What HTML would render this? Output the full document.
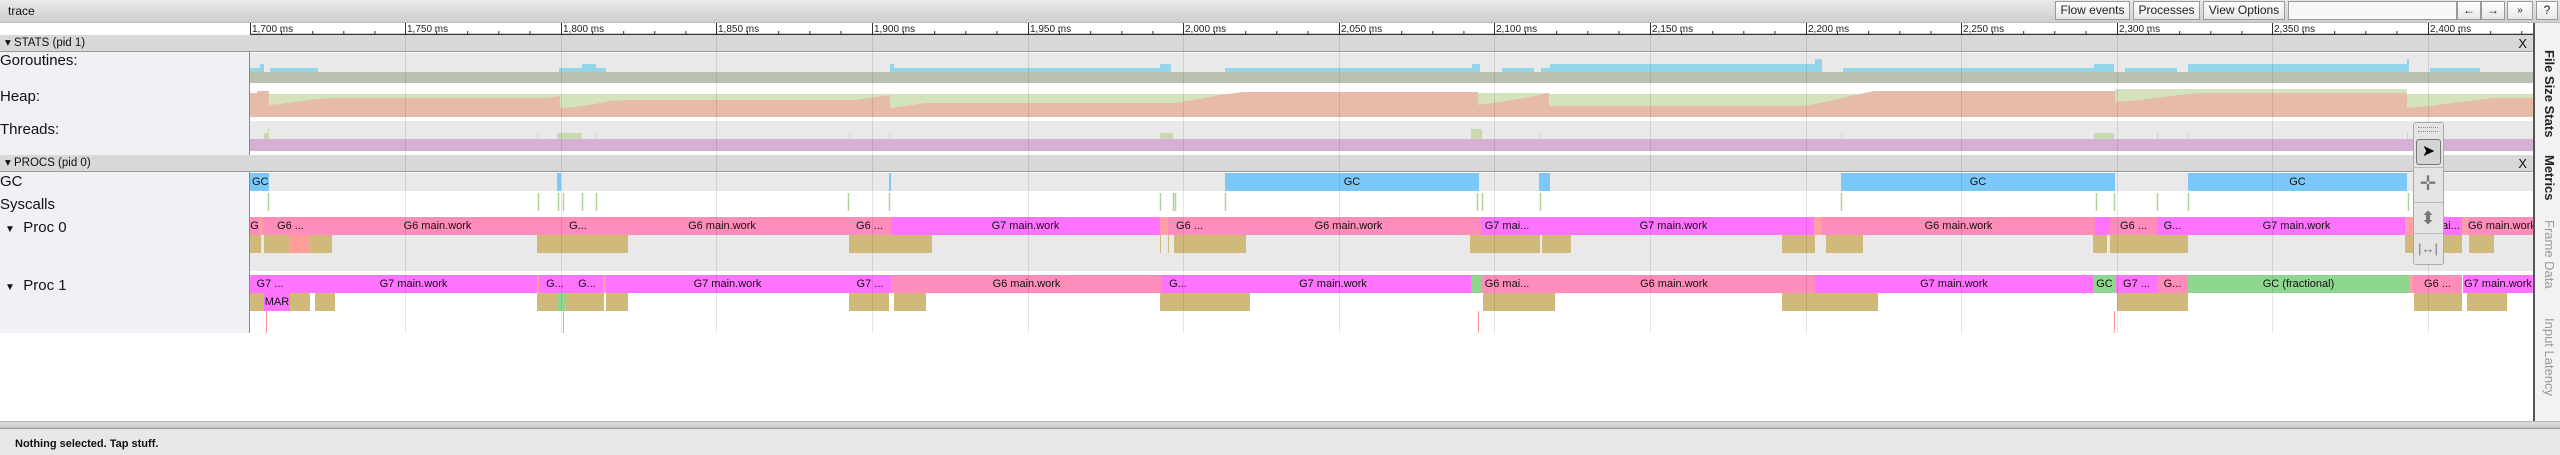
<!DOCTYPE html>
<html><head><meta charset="utf-8"><style>
*{margin:0;padding:0;box-sizing:border-box}
body{width:2560px;height:455px;overflow:hidden;background:#fff;font-family:"Liberation Sans",sans-serif;position:relative}
.a{position:absolute}
.s{position:absolute;overflow:hidden;white-space:nowrap;text-align:center;font-size:11px;color:#111;line-height:18px;height:18px}
.P{background:#ff8dbb}.M{background:#ff73ff}.T{background:#d1b97b}.G{background:#8fd68f}.R{background:#ffa0a8}.B{background:#7cc7fa}
.btn{position:absolute;top:1px;height:19px;border:1px solid #999;background:linear-gradient(#fdfdfd,#e8e8e8);font-size:12px;line-height:17px;text-align:center;color:#222}
.lbl{position:absolute;left:0;font-size:15px;color:#111}
.hdr{position:absolute;left:0;width:2533px;height:17px;background:#d8d8d8;border-bottom:1px solid #999;font-size:11.5px;line-height:17px;color:#111;padding-left:5px}
.x{position:absolute;right:6px;top:0;font-size:13px}
.vt{position:absolute;left:2542px;writing-mode:vertical-rl;font-size:13px;font-weight:bold;color:#222}
.tb{position:absolute;left:2413px;width:30px;border-top:1px solid #bbb;color:#777;text-align:center}
</style></head><body>
<div class="a" style="left:0;top:0;width:2560px;height:23px;background:linear-gradient(#e9e9e9,#cfcfcf);border-bottom:1px solid #bbb"></div>
<div class="a" style="left:8px;top:4px;font-size:12px;color:#111">trace</div>
<div class="btn" style="left:2055px;width:75px">Flow events</div>
<div class="btn" style="left:2133px;width:67px">Processes</div>
<div class="btn" style="left:2203px;width:82px">View Options</div>
<div class="btn" style="left:2288px;width:169px;background:#f8f8f8"></div>
<div class="btn" style="left:2457px;width:24px">←</div>
<div class="btn" style="left:2481px;width:24px">→</div>
<div class="btn" style="left:2507px;width:26px;font-size:10px">»</div>
<div class="btn" style="left:2536px;width:22px">?</div>

<div class="a" style="left:0;top:35px;width:250px;height:298px;background:#f0f1f5;border-right:1px solid #888"></div>

<svg class="a" style="left:0;top:23px" width="2533" height="13">
<line x1="250" y1="11.5" x2="2533" y2="11.5" stroke="#333" stroke-width="1.5"/>
<g stroke="#333" stroke-width="1">
<line x1="250.5" y1="0" x2="250.5" y2="12"/><line x1="405.5" y1="0" x2="405.5" y2="12"/><line x1="561.5" y1="0" x2="561.5" y2="12"/><line x1="716.5" y1="0" x2="716.5" y2="12"/><line x1="872.5" y1="0" x2="872.5" y2="12"/><line x1="1028.5" y1="0" x2="1028.5" y2="12"/><line x1="1183.5" y1="0" x2="1183.5" y2="12"/><line x1="1339.5" y1="0" x2="1339.5" y2="12"/><line x1="1494.5" y1="0" x2="1494.5" y2="12"/><line x1="1650.5" y1="0" x2="1650.5" y2="12"/><line x1="1806.5" y1="0" x2="1806.5" y2="12"/><line x1="1961.5" y1="0" x2="1961.5" y2="12"/><line x1="2117.5" y1="0" x2="2117.5" y2="12"/><line x1="2272.5" y1="0" x2="2272.5" y2="12"/><line x1="2428.5" y1="0" x2="2428.5" y2="12"/>
</g>
<path d="M281.6 8V12M312.7 8V12M343.8 8V12M374.9 8V12M436.6 8V12M467.7 8V12M498.8 8V12M530 8V12M592.6 8V12M623.7 8V12M654.8 8V12M685.9 8V12M747.6 8V12M778.7 8V12M809.8 8V12M841 8V12M903.6 8V12M934.7 8V12M965.8 8V12M996.9 8V12M1059.6 8V12M1090.7 8V12M1121.8 8V12M1152.9 8V12M1214.6 8V12M1245.7 8V12M1276.8 8V12M1308 8V12M1370.6 8V12M1401.7 8V12M1432.8 8V12M1463.9 8V12M1525.6 8V12M1556.7 8V12M1587.8 8V12M1619 8V12M1681.6 8V12M1712.7 8V12M1743.8 8V12M1774.9 8V12M1837.6 8V12M1868.7 8V12M1899.8 8V12M1930.9 8V12M1992.6 8V12M2023.7 8V12M2054.8 8V12M2086 8V12M2148.6 8V12M2179.7 8V12M2210.8 8V12M2241.9 8V12M2303.6 8V12M2334.7 8V12M2365.8 8V12M2396.9 8V12M2459.6 8V12M2490.7 8V12M2521.8 8V12" stroke="#333" stroke-width="1"/>
<g font-size="10" fill="#222" font-family="Liberation Sans,sans-serif">
<text x="252" y="9">1,700 ms</text><text x="407" y="9">1,750 ms</text><text x="563" y="9">1,800 ms</text><text x="718" y="9">1,850 ms</text><text x="874" y="9">1,900 ms</text><text x="1030" y="9">1,950 ms</text><text x="1185" y="9">2,000 ms</text><text x="1341" y="9">2,050 ms</text><text x="1496" y="9">2,100 ms</text><text x="1652" y="9">2,150 ms</text><text x="1808" y="9">2,200 ms</text><text x="1963" y="9">2,250 ms</text><text x="2119" y="9">2,300 ms</text><text x="2274" y="9">2,350 ms</text><text x="2430" y="9">2,400 ms</text>
</g>
</svg>

<div class="hdr" style="top:35px">▾ STATS (pid 1)<span class="x">X</span></div>
<div class="hdr" style="top:155px">▾ PROCS (pid 0)<span class="x">X</span></div>

<div class="lbl" style="top:52px">Goroutines:</div>
<div class="lbl" style="top:88px">Heap:</div>
<div class="lbl" style="top:121px">Threads:</div>
<div class="lbl" style="top:173px">GC</div>
<div class="lbl" style="top:196px">Syscalls</div>
<div class="lbl" style="top:219px;left:5px"><span style="font-size:10px">▼</span>&nbsp;&nbsp;Proc 0</div>
<div class="lbl" style="top:277px;left:5px"><span style="font-size:10px">▼</span>&nbsp;&nbsp;Proc 1</div>

<svg class="a" style="left:0;top:0" width="2560" height="160">
<rect x="250" y="53" width="2283" height="19" fill="#e9e9e9"/>
<g fill="#93d5e9">
<rect x="250" y="68" width="14" height="4"/><rect x="260" y="64" width="4" height="8"/><rect x="270" y="68" width="48" height="4"/>
<rect x="559" y="68" width="47" height="4"/><rect x="582" y="64" width="14" height="8"/>
<rect x="890" y="68" width="270" height="4"/><rect x="890" y="64" width="4" height="8"/><rect x="1160" y="64" width="11" height="8"/>
<rect x="1225" y="68" width="247" height="4"/><rect x="1472" y="64" width="8" height="8"/>
<rect x="1502" y="68" width="32" height="4"/><rect x="1541" y="68" width="9" height="4"/><rect x="1550" y="64" width="265" height="8"/><rect x="1815" y="59" width="7" height="13"/>
<rect x="1843" y="68" width="251" height="4"/><rect x="2094" y="64" width="20" height="8"/>
<rect x="2125" y="68" width="52" height="4"/><rect x="2188" y="64" width="221" height="8"/><rect x="2407" y="59" width="2" height="13"/>
<rect x="2430" y="68" width="50" height="4"/>
</g>
<rect x="250" y="72" width="2283" height="11" fill="#b9c2b1"/>
<g fill="#d4e3be">
<rect x="269" y="94" width="1209" height="23"/><rect x="1478" y="93" width="71" height="24"/><rect x="1549" y="94" width="566" height="23"/><rect x="2115" y="89" width="292" height="28"/><rect x="2407" y="94" width="126" height="23"/>
</g>
<polygon fill="#e7bba9" points="250,117 250,93 257,93 257,91 269,91 269,105 280,104 295,102 310,100 330,98 544,98 560,96 560,108 575,107 595,104 610,101 626,100 856,100 890,95 890,108 905,106 926,103 1175,103 1200,99 1220,95 1243,92 1478,92 1478,105 1500,102 1525,98 1549,93 1549,106 1804,106 1830,101 1855,95 1874,91 2115,91 2115,102 2140,100 2170,96 2200,93 2407,93 2407,108 2430,106 2460,102 2494,98 2533,98 2533,117"/>
<rect x="250" y="121" width="2283" height="18" fill="#e9e9e9"/>
<g fill="#c8dab0">
<rect x="264" y="133" width="5" height="6"/><rect x="268" y="128" width="1" height="11"/><rect x="557" y="133" width="25" height="6"/><rect x="1160" y="133" width="13" height="6"/><rect x="1471" y="129" width="11" height="10"/><rect x="2094" y="133" width="20" height="6"/>
<rect x="537" y="133" width="1" height="6"/><rect x="596" y="133" width="1" height="6"/><rect x="849" y="133" width="1" height="6"/><rect x="889" y="133" width="1" height="6"/><rect x="1539" y="133" width="1" height="6"/><rect x="1841" y="133" width="1" height="6"/><rect x="2157" y="133" width="1" height="6"/><rect x="2187" y="133" width="1" height="6"/><rect x="2407" y="133" width="1" height="6"/>
</g>
<rect x="250" y="139" width="2283" height="12" fill="#d5afd4"/>
</svg>

<div class="a" style="left:250px;top:173px;width:2283px;height:18px;background:#e9e9e9"></div>
<div class="s B" style="left:250px;top:173px;width:19px;text-align:left;padding-left:2px">GC</div>
<div class="s B" style="left:557px;top:173px;width:4px"></div>
<div class="s B" style="left:889px;top:173px;width:2px"></div>
<div class="s B" style="left:1225px;top:173px;width:254px">GC</div>
<div class="s B" style="left:1539px;top:173px;width:11px"></div>
<div class="s B" style="left:1841px;top:173px;width:274px">GC</div>
<div class="s B" style="left:2188px;top:173px;width:219px">GC</div>

<svg class="a" style="left:0;top:193px" width="2533" height="20">
<path d="M268.5 0V18M538.5 0V18M558.5 0V18M563.5 0V18M582.5 0V18M596.5 0V18M848.5 0V18M889.5 0V18M1160.5 0V18M1173.5 0V18M1175.5 0V18M1225.5 0V18M1477.5 0V18M1482.5 0V18M1540.5 0V18M1841.5 0V18M2096.5 0V18M2114.5 0V18M2157.5 0V18M2188.5 0V18M2408.5 0V18" stroke="#b2d396" stroke-width="1.5"/>
</svg>

<div class="a" style="left:250px;top:235px;width:2283px;height:36px;background:#e9e9e9"></div>
<div class="s P" style="left:250px;top:217px;width:9px">G</div>
<div class="s R" style="left:259px;top:217px;width:4px"></div>
<div class="s P" style="left:263px;top:217px;width:55px">G6 ...</div>
<div class="s P" style="left:318px;top:217px;width:239px">G6 main.work</div>
<div class="s P" style="left:557px;top:217px;width:3px"></div>
<div class="s P" style="left:560px;top:217px;width:36px">G...</div>
<div class="s P" style="left:596px;top:217px;width:252px">G6 main.work</div>
<div class="s P" style="left:848px;top:217px;width:43px">G6 ...</div>
<div class="s M" style="left:891px;top:217px;width:269px">G7 main.work</div>
<div class="s R" style="left:1160px;top:217px;width:8px"></div>
<div class="s P" style="left:1168px;top:217px;width:43px">G6 ...</div>
<div class="s P" style="left:1211px;top:217px;width:14px"></div>
<div class="s P" style="left:1225px;top:217px;width:247px">G6 main.work</div>
<div class="s P" style="left:1472px;top:217px;width:9px"></div>
<div class="s M" style="left:1481px;top:217px;width:52px">G7 mai...</div>
<div class="s M" style="left:1533px;top:217px;width:281px">G7 main.work</div>
<div class="s R" style="left:1814px;top:217px;width:8px"></div>
<div class="s P" style="left:1822px;top:217px;width:273px">G6 main.work</div>
<div class="s M" style="left:2095px;top:217px;width:15px"></div>
<div class="s P" style="left:2110px;top:217px;width:47px">G6 ...</div>
<div class="s M" style="left:2157px;top:217px;width:31px">G...</div>
<div class="s M" style="left:2188px;top:217px;width:217px">G7 main.work</div>
<div class="s R" style="left:2405px;top:217px;width:8px"></div>
<div class="s M" style="left:2413px;top:217px;width:49px">G7 mai...</div>
<div class="s R" style="left:2462px;top:217px;width:6px"></div>
<div class="s P" style="left:2468px;top:217px;width:65px">G6 main.work</div>

<div class="s T" style="left:250px;top:235px;width:11px"></div>
<div class="s T" style="left:264px;top:235px;width:26px"></div>
<div class="s" style="left:290px;top:235px;width:19px;background:#ff9d99"></div>
<div class="s T" style="left:309px;top:235px;width:23px"></div>
<div class="s T" style="left:537px;top:235px;width:91px"></div>
<div class="s T" style="left:849px;top:235px;width:83px"></div>
<div class="s T" style="left:1160px;top:235px;width:1px"></div>
<div class="s T" style="left:1168px;top:235px;width:1px"></div>
<div class="s T" style="left:1174px;top:235px;width:72px"></div>
<div class="s T" style="left:1470px;top:235px;width:70px"></div>
<div class="s T" style="left:1542px;top:235px;width:29px"></div>
<div class="s T" style="left:1782px;top:235px;width:33px"></div>
<div class="s T" style="left:1826px;top:235px;width:37px"></div>
<div class="s T" style="left:2093px;top:235px;width:14px"></div>
<div class="s T" style="left:2110px;top:235px;width:78px"></div>
<div class="s T" style="left:2405px;top:235px;width:57px"></div>
<div class="s T" style="left:2469px;top:235px;width:25px"></div>

<div class="s M" style="left:250px;top:275px;width:40px">G7 ...</div>
<div class="s M" style="left:290px;top:275px;width:247px">G7 main.work</div>
<div class="s R" style="left:537px;top:275px;width:2px"></div>
<div class="s M" style="left:539px;top:275px;width:32px">G...</div>
<div class="s M" style="left:571px;top:275px;width:32px">G...</div>
<div class="s R" style="left:603px;top:275px;width:3px"></div>
<div class="s M" style="left:606px;top:275px;width:243px">G7 main.work</div>
<div class="s M" style="left:849px;top:275px;width:42px">G7 ...</div>
<div class="s G" style="left:891px;top:275px;width:1px"></div>
<div class="s P" style="left:892px;top:275px;width:269px">G6 main.work</div>
<div class="s M" style="left:1161px;top:275px;width:34px">G...</div>
<div class="s M" style="left:1195px;top:275px;width:276px">G7 main.work</div>
<div class="s G" style="left:1471px;top:275px;width:10px"></div>
<div class="s P" style="left:1481px;top:275px;width:52px">G6 mai...</div>
<div class="s P" style="left:1533px;top:275px;width:282px">G6 main.work</div>
<div class="s M" style="left:1815px;top:275px;width:278px">G7 main.work</div>
<div class="s G" style="left:2093px;top:275px;width:23px">GC</div>
<div class="s M" style="left:2116px;top:275px;width:41px">G7 ...</div>
<div class="s P" style="left:2157px;top:275px;width:31px">G...</div>
<div class="s G" style="left:2188px;top:275px;width:221px">GC (fractional)</div>
<div class="s R" style="left:2409px;top:275px;width:4px"></div>
<div class="s P" style="left:2413px;top:275px;width:49px">G6 ...</div>
<div class="s M" style="left:2463px;top:275px;width:70px">G7 main.work</div>

<div class="s T" style="left:250px;top:293px;width:14px"></div>
<div class="s M" style="left:264px;top:293px;width:26px">MAR</div>
<div class="s T" style="left:290px;top:293px;width:20px"></div>
<div class="s T" style="left:315px;top:293px;width:20px"></div>
<div class="s T" style="left:537px;top:293px;width:20px"></div>
<div class="s G" style="left:557px;top:293px;width:8px"></div>
<div class="s T" style="left:565px;top:293px;width:39px"></div>
<div class="s T" style="left:606px;top:293px;width:22px"></div>
<div class="s T" style="left:849px;top:293px;width:40px"></div>
<div class="s T" style="left:894px;top:293px;width:32px"></div>
<div class="s T" style="left:1160px;top:293px;width:90px"></div>
<div class="s T" style="left:1483px;top:293px;width:72px"></div>
<div class="s T" style="left:1782px;top:293px;width:96px"></div>
<div class="s T" style="left:2117px;top:293px;width:71px"></div>
<div class="s T" style="left:2414px;top:293px;width:48px"></div>
<div class="s T" style="left:2467px;top:293px;width:40px"></div>
<div class="a" style="left:266px;top:311px;width:1px;height:22px;background:#f99"></div>
<div class="a" style="left:563px;top:311px;width:1px;height:22px;background:#f99"></div>
<div class="a" style="left:1478px;top:311px;width:1px;height:22px;background:#f99"></div>
<div class="a" style="left:2114px;top:311px;width:1px;height:22px;background:#f99"></div>

<svg class="a" style="left:0;top:35px" width="2533" height="298">
<path d="M405.5 0V298M561.5 0V298M716.5 0V298M872.5 0V298M1028.5 0V298M1183.5 0V298M1339.5 0V298M1494.5 0V298M1650.5 0V298M1806.5 0V298M1961.5 0V298M2117.5 0V298M2272.5 0V298M2428.5 0V298" stroke="rgba(0,0,0,0.1)" stroke-width="1"/>
</svg>

<div class="a" style="left:2413px;top:122px;width:31px;height:143px;background:#e4e4e4;border:1px solid #aaa;border-radius:3px"></div>
<div class="a" style="left:2418px;top:127px;width:20px;height:5px;border-top:1px dotted #888;border-bottom:1px dotted #888"></div>
<div class="a" style="left:2416px;top:139px;width:25px;height:26px;background:#d4d4d4;border:1px solid #777;border-radius:3px;font-size:16px;text-align:center;line-height:24px;color:#000">➤</div>
<div class="tb" style="top:167px;height:35px;font-size:20px;line-height:33px">✛</div>
<div class="tb" style="top:202px;height:31px;font-size:18px;line-height:30px">⬍</div>
<div class="tb" style="top:233px;height:31px;font-size:13px;line-height:30px">|↔|</div>

<div class="a" style="left:2533px;top:23px;width:27px;height:398px;background:#f2f2f2;border-left:2px solid #555"></div>
<div class="vt" style="top:50px">File Size Stats</div>
<div class="vt" style="top:155px">Metrics</div>
<div class="vt" style="top:220px;color:#999;font-weight:normal">Frame Data</div>
<div class="vt" style="top:318px;color:#999;font-weight:normal">Input Latency</div>

<div class="a" style="left:0;top:421px;width:2560px;height:8px;background:linear-gradient(#aaa,#ddd 20%,#ccc 80%,#888)"></div>
<div class="a" style="left:0;top:429px;width:2560px;height:26px;background:#e7e7e7"></div>
<div class="a" style="left:15px;top:438px;font-size:11px;font-weight:bold;color:#111">Nothing selected. Tap stuff.</div>
</body></html>
